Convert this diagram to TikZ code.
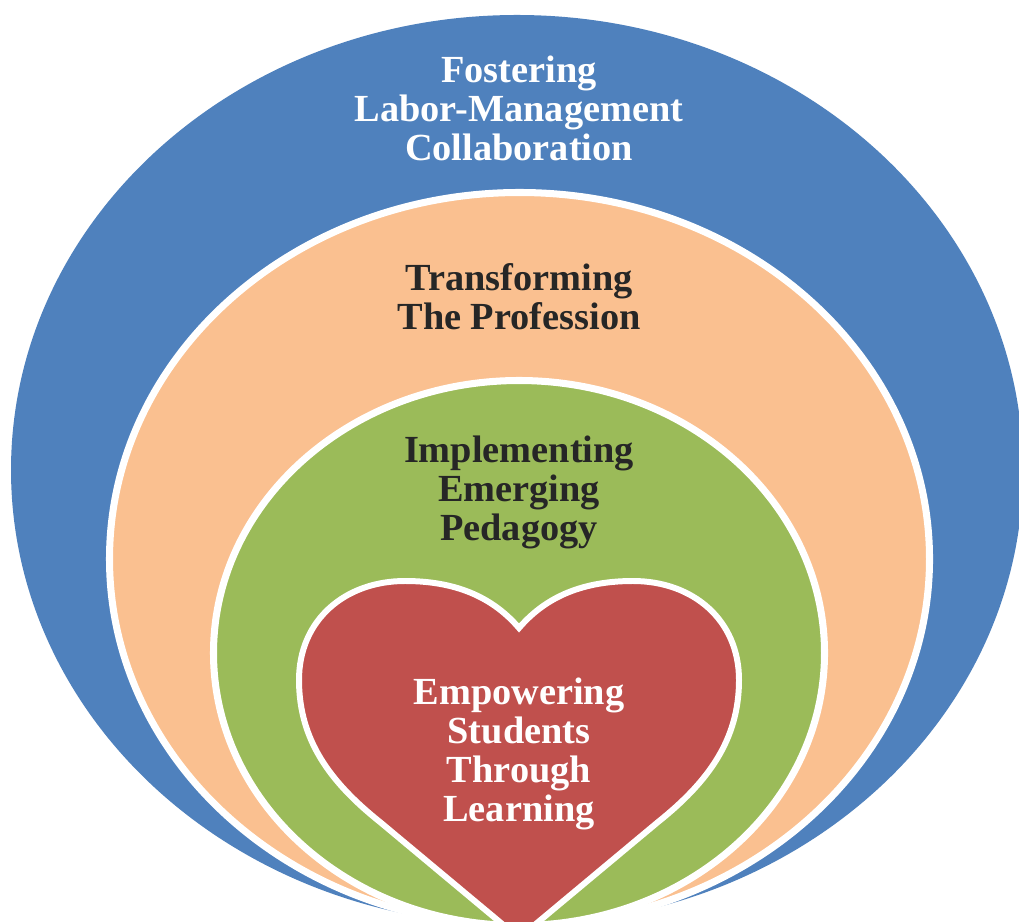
\documentclass[tikz,border=0pt]{standalone}
\usepackage{fontspec}
\setmainfont{Liberation Serif}
\usetikzlibrary{positioning}
\definecolor{ringblue}{HTML}{4F81BD}
\definecolor{ringpeach}{HTML}{FAC090}
\definecolor{ringgreen}{HTML}{9BBB59}
\definecolor{heartred}{HTML}{C0504D}
\definecolor{ink}{HTML}{262626}
\tikzset{
  ring/.style={draw=white, line width=2pt},
  ringtext/.style={align=center, inner sep=0pt, text=ink, font=\bfseries\fontsize{10.9}{11.1}\selectfont},
  lighttext/.style={ringtext, text=white}}

\begin{document}
\begin{tikzpicture}[x=0.01cm, y=-0.01cm]
\useasboundingbox (0,0) rectangle (1019,922);
\clip (0,0) rectangle (1019,922);
% rings, outside in
\fill[ringblue] (517,470) ellipse [x radius=506, y radius=455];
\filldraw[ring, fill=ringpeach] (519.5,559) ellipse [x radius=410, y radius=366.5];
\filldraw[ring, fill=ringgreen] (519,653) ellipse [x radius=305.5, y radius=272.5];
% heart
\filldraw[ring, line width=1.7pt, line join=miter, fill=heartred] (519,628)
  .. controls (495,600) and (460,581) .. (405,581)
  .. controls (345,581) and (299,620) .. (299,680)
  .. controls (299,740) and (330,782) .. (380,822) -- (519,938) -- (658,822)
  .. controls (708,782) and (739,740) .. (739,680)
  .. controls (739,620) and (693,581) .. (633,581)
  .. controls (578,581) and (543,600) .. cycle;
\node[lighttext] (fost) at (519,108) {Fostering\\Labor-Management\\Collaboration};
\node[ringtext] (trans) at (519,297) {Transforming\\The Profession};
\node[ringtext] (impl) at (519,492) {Implementing\\Emerging\\Pedagogy};
\node[lighttext] (emp) at (519,754) {Empowering\\Students\\Through\\Learning};
\end{tikzpicture}
\end{document}
